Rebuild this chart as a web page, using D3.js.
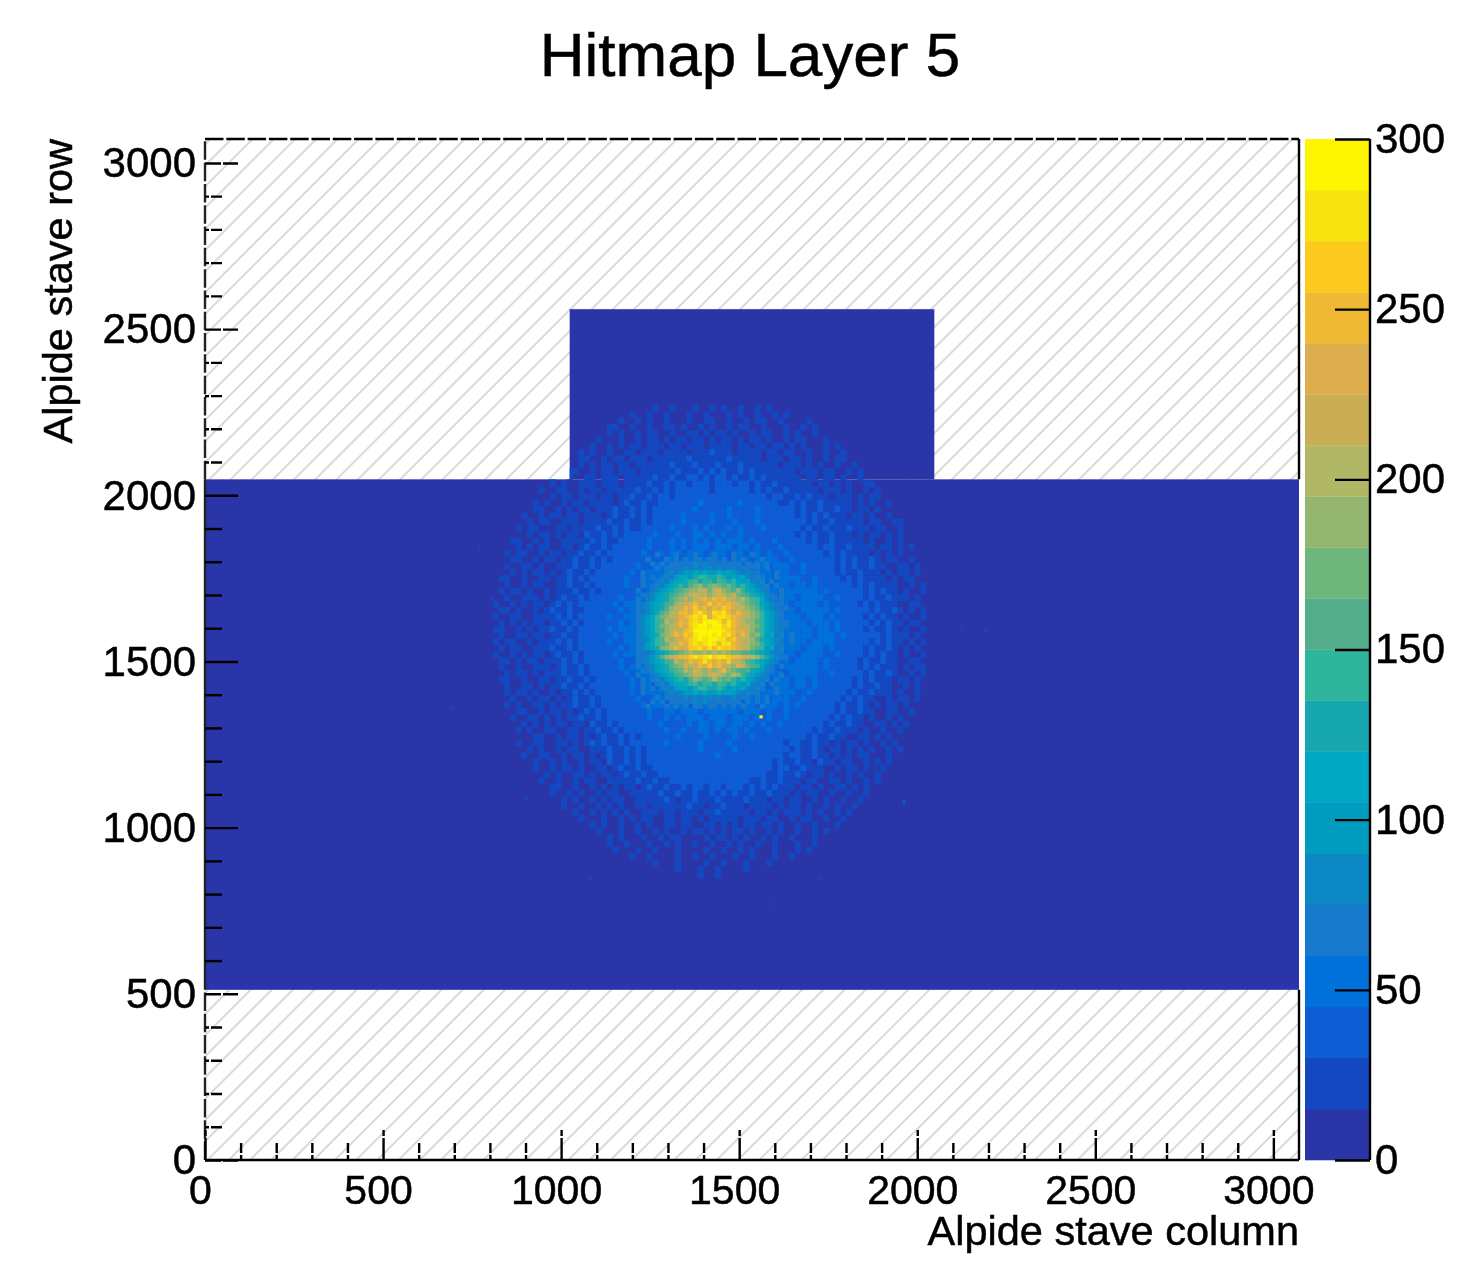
<!DOCTYPE html>
<html lang="en">
<head>
  <meta charset="UTF-8">
  <title>Hitmap Layer 5</title>
  <script src="https://cdn.jsdelivr.net/npm/d3@7"></script>
  <style>
    body { margin: 0; background: #fff; }
    svg { display: block; filter: blur(0.6px); }
    text { font-family: "Liberation Sans", sans-serif; fill: #000; stroke: #000; stroke-width: 0.5px; }
    .axis text { font-size: 41px; }
    .axis line { stroke: #000; stroke-width: 2.4; }
  </style>
</head>
<body>
  <script>
// colour band per 15 hits, bottom to top of the palette
var bandColors = ["#2a35a8","#1448c0","#0e5dd6","#0070da","#1679cc","#0a88c4","#009cc0","#00a7c2","#16a8ae","#2fb59c",
                  "#54ae8c","#6fb67c","#93b56f","#b0b866","#c9ae55","#dcae4e","#f0b934","#fcca1e","#f6e310","#fdf600"];

var xMajor = [0, 500, 1000, 1500, 2000, 2500, 3000];
var xMinor = [100,200,300,400,600,700,800,900,1100,1200,1300,1400,1600,1700,1800,1900,2100,2200,2300,2400,2600,2700,2800,2900];
var yMajor = [0, 500, 1000, 1500, 2000, 2500, 3000];
var yMinor = xMinor;
var zTicks = [0, 50, 100, 150, 200, 250, 300];

// sensor blocks [col0, col1, row0, row1]
var staveBlocks = [[0, 3072, 512, 2048], [1024, 2048, 2048, 2560]];

// hits, one char per cell, base 36, in units of 15 hits.
// outer cells are 16 wide and 19 high, rows go down from row 2272, each string is centred on column 1416
var outerRows = [
"100100010010100100101",
"10010010001001000101001001010",
"01001010010001001100100101100100001",
"1100100100110100101001011001000100101",
"01010010110010011010110100101100101001",
"10001001011010110110101101011010010110001",
"010010101101110110111011110110110110101000101",
"10100100110111011110111211101111011011001001001",
"0110010110111011111121111112111110111011010010110",
"1001010110110111111211121112111211111101110101001001",
"001100101101110111111211121212112121111111011101100101",
"10010011011101111121121122121221211212111111011011010010",
"0101001110111011112112122122212221221211211111101101010011",
"100110010110111112112121222222122222212121121111101110100101",
"0010110111011011211212212222222222222222122112121110111010110",
"101001011011110121121122222223222222322222211212112111110101001",
"0110010101101112112121222222232222232222322222212112112110110100",
"100101101101110121121212222232222322322223222222121212111011010010",
"0101100111011112112112122222322223222322232222222212112111110110011",
"10110001101111211212112222232223232223232223222222121121112111011001",
"001011010110211212122222322232233232322322222222212121121110101101010",
"1100101001111121211222223222323232323233323222322222121121111101001010",
"01010110011012112122222232223232333233323323222322222212211211110110101",
"101100101101121121222222322323323332333233233232232222221212111101010100",
"011001011011211212122222232233233323333233323333223222222212121121011001",
"1001101001112112122222232233323333433323333433233322322222121211211001101",
"0101011010121121222222322333233334332343332333323322322222121121110101101",
"11001001101121212222223223333233343323434333243323333223222212121111010110",
"010010110011211212222232233323333433343434343332333233232222221212111100101",
"101101001011121121222222323332334333434444344343323333332322222212121101001",
"010011101012112122222322333233343334344444443433433323333223222212112111010",
"1001010110121212222223233323333433444444444444343333233332322222121211100110",
"0110100101211211222222323332333343344444444444443343323333323222221211210101",
"1001100111121212222232233323334334444444444444444343332333232222212121101001",
"0101010110112121222222323323333434444444444444444334333233323222221212110110",
"1100101011211212222232333233334334444444444444444443333323323222212112101001",
"0100110110112112222223233323334344444444444444444433433323332322222212111010",
"1011001011121212222232233323343344444444444444444433433233332222221212110101",
"0101100111211212222222323323333434444444444444443343332333232222212112101010",
"1001010110121121222223233332334334444444444444443433323333223222212121101001",
"0110101101112121222222322333233433444444444444334333233332322222121121100110",
"100100111012112122222323332333343344444444443343323333332322222121211101011",
"010110101112112122222232333233334334344444343433332333332232222212112100101",
"110010011011211212222223233323333433434344334332333233232222221212111011010",
"01001101011211212222222323323333343334343433433233323323222222121121100101",
"1011010010112121222222322333233333343323343323333332232222221211211101001",
"0100101101012112122222232233233323333433323333233322322222212121100101101",
"101001101011211212222222323323332333233323332333232322222212112101011010",
"01100101101012121222222232233233323333332333232232222222212112110011001",
"1001101010112112122222223223232333233323332323223222222212121101001010",
"010101011011021121222222232222323323323323232232222222121121100110101",
"10100110011011211212222222322322332323323222322222221211211101001001",
"0110010110101211212122222232222322223223222222222121121100110101",
"10011001101012121121222222322222322223222222222122112110101101001010",
"0101001011001112112121222222222322222322222222212112101101010100101",
"100110010110101211212122222222222232222222222212211211010101100010",
"0100101001011021121212222222222222222222222121121102110110010101",
"100101101001101211211222222222222222222222122112111001011010010",
"0101001101011012112112222222222222222222112112101101001010010",
"100100101100111112112112222222222222211211211101100110100101",
"0110010010101011012112112122122122212121211101101001101010",
"10010100101100111112112112112121211211211101011001001001",
"010100101011001111121011211121111211101101100101001001",
"1001001010100110111111211011211101111010110100101001",
"01001010101001110110111011211111011010111010100101",
"10001001010110011011010111110111011001011001001",
"010100100101001101100110101011011010010010001",
"10001001001010010110101011010010100100101",
"01010001001011000010110101001010010001",
"1001000100101001001001010010010001001",
"10001001000100001001001010001000101",
"10010000100100100010010001001",
"100010000100100010001",
"1000100100001",
"1001"
];
var outerStart = [1416, 2272, 16, 19];

// core cells are 13.4 wide, rows go down from row 1828, 0 lets the outer grid show through
var coreRows = [
"000004000400040004000400040000000",
"000400040404044044040404000400000",
"000040404444454544444440404040000",
"000004044445454554544544404040000",
"004000045456676766767654544000400",
"004040454677689988986767545400400",
"0040045467789a8998a98976754504000",
"004045467898abcabcbab989765450400",
"0400456789abccdebdfcbac9876540040",
"004456789abcdfdecdfdceba987654040",
"04045678abcecdfgegfgedcdba9754040",
"04456789acdefgefhfgfgfdcba9765440",
"0445678acdegfhfgegfhgfdecba865404",
"044568abdeggfhigfihigegedcb976540",
"045679bcdefghihjfhiihgfedcb976540",
"045679adcegfhihjjjigigfdcca976540",
"045679bcdegfhijjijjhigfedcb976544",
"045679acdfdghjjjjjjihgffeca976540",
"045678bcegfhgijjjijhigegdbc967450",
"045579adcefghijijjiighfdeca876540",
"044679abedgfhihijigiigfedcb976540",
"045678bcdgefhhigigihhgfedba967450",
"044456789abcdccdcdcdcbbaa98765440",
"044568acefgghihijhiihggfedca86544",
"04456789adcegfgigfgfhedca98765400",
"04045678abcfdegfhfgedcfeba9754040",
"004456789abdcfdcecdgcba9a87654000",
"0400456789abcedcdfdcbdc9876540040",
"004045467898acbabdbab989765450400",
"0040045467789a8998a98976754504000",
"004040454677689988986767545400400",
"004000045456676766767654544000400",
"000004044445454554544544404040000",
"000040404444454544444440404040000",
"000400040404044044040404000400000"
];
var coreStart = [1196, 1828, 13.4, 13.4];

// stray noisy pixels [col, row, hits]
var hotPixels = [[1557, 1330, 290], [687, 1354, 20], [2188, 1588, 20], [2118, 1594, 20], [1958, 1074, 35], [1725, 842, 20],
                 [799, 1685, 20], [898, 1083, 20], [1585, 767, 20], [1080, 842, 20], [766, 1841, 20]];

var w = 1460,
    h = 1269;
var left = 205, right = 1299, top_ = 139, bottom = 1160;

var svg = d3.select("body")
            .append("svg")
            .attr("width", w)
            .attr("height", h);

var xScale = d3.scaleLinear().domain([0, 3072]).range([left, right]);
var yScale = d3.scaleLinear().domain([0, 3072]).range([bottom, top_]);
var zScale = d3.scaleLinear().domain([0, 300]).range([bottom, top_]);
var colorScale = d3.scaleQuantize().domain([0, 300]).range(bandColors);

var defs = svg.append("defs");

// hatching where there is no sensor
var pattern = defs.append("pattern")
    .attr("id", "hatch")
    .attr("patternUnits", "userSpaceOnUse")
    .attr("width", 15).attr("height", 15)
    .attr("patternTransform", "rotate(45)");
pattern.append("line")
    .attr("x1", 7).attr("x2", 7).attr("y1", 0).attr("y2", 15)
    .attr("stroke", "#c4c4c4").attr("stroke-width", 1.3);

svg.append("rect")
    .attr("x", left).attr("y", top_)
    .attr("width", right - left).attr("height", bottom - top_)
    .attr("fill", "url(#hatch)");

function blockRects(sel) {
    return sel.selectAll("rect")
        .data(staveBlocks)
        .join("rect")
        .attr("x", d => xScale(d[0]))
        .attr("width", d => xScale(d[1]) - xScale(d[0]))
        .attr("y", d => yScale(d[3]))
        .attr("height", d => yScale(d[2]) - yScale(d[3]));
}

blockRects(svg.append("g")).attr("fill", bandColors[0]);
// no hits outside the sensors
blockRects(defs.append("clipPath").attr("id", "stave"));

var cellLayer = svg.append("g").attr("clip-path", "url(#stave)");

// turn the char rows into cells, level 0 is already the block colour
function cellsFrom(rows, colAt, start) {
    var cells = [];
    rows.forEach(function(str, i) {
        for (var j = 0; j < str.length; j++) {
            var code = parseInt(str[j], 36);
            if (code > 0) {
                cells.push({
                    col: colAt(str, j),
                    row: start[1] - (i + 1) * start[3],
                    width: start[2],
                    height: start[3],
                    hits: code * 15 + 7
                });
            }
        }
    });
    return cells;
}

function drawCells(cells) {
    cellLayer.append("g").selectAll("rect")
        .data(cells)
        .join("rect")
        .attr("x", d => xScale(d.col))
        .attr("width", d => xScale(d.col + d.width) - xScale(d.col) + 0.4)
        .attr("y", d => yScale(d.row + d.height))
        .attr("height", d => yScale(d.row) - yScale(d.row + d.height) + 0.4)
        .attr("fill", d => colorScale(d.hits));
}

drawCells(cellsFrom(outerRows, (str, j) => outerStart[0] + (j - Math.floor(str.length / 2)) * outerStart[2], outerStart));
drawCells(cellsFrom(coreRows, (str, j) => coreStart[0] + j * coreStart[2], coreStart));
drawCells(hotPixels.map(d => ({ col: d[0], row: d[1], width: 8, height: 8, hits: d[2] })));

// frame, the hatching chews gaps in it
var dashed = "18.5 2.8";
svg.append("line").attr("x1", left).attr("x2", right).attr("y1", top_).attr("y2", top_)
    .attr("stroke", "#000").attr("stroke-width", 2.4).attr("stroke-dasharray", dashed);
svg.append("line").attr("x1", left).attr("x2", right).attr("y1", bottom).attr("y2", bottom)
    .attr("stroke", "#000").attr("stroke-width", 2.6);
svg.append("line").attr("x1", right).attr("x2", right).attr("y1", top_).attr("y2", yScale(2048))
    .attr("stroke", "#000").attr("stroke-width", 2.4);
svg.append("line").attr("x1", right).attr("x2", right).attr("y1", yScale(512)).attr("y2", bottom)
    .attr("stroke", "#000").attr("stroke-width", 2.4);
svg.append("g").selectAll("line")
    .data([[0, 512, dashed], [512, 2048, null], [2048, 3072, dashed]])
    .join("line")
    .attr("x1", left).attr("x2", left)
    .attr("y1", d => yScale(d[0])).attr("y2", d => yScale(d[1]))
    .attr("stroke", "#222").attr("stroke-width", 2.4)
    .attr("stroke-dasharray", d => d[2]);

// x axis
var xAxis = d3.axisBottom(xScale).tickValues(xMajor).tickSize(-30).tickPadding(15).tickFormat(d3.format("d"));
var xG = svg.append("g").attr("class", "axis")
    .attr("transform", "translate(0," + bottom + ")").call(xAxis);
xG.selectAll("text").attr("dx", -5);
xG.selectAll("line").attr("stroke-dasharray", "22 2 10");

var xAxisMinor = d3.axisBottom(xScale).tickValues(xMinor).tickSize(-17).tickFormat("");
var xGMinor = svg.append("g").attr("class", "axis")
    .attr("transform", "translate(0," + bottom + ")").call(xAxisMinor);
xGMinor.selectAll("line").attr("stroke-dasharray", "5 2 14");

// y axis
var yAxis = d3.axisLeft(yScale).tickValues(yMajor).tickSize(-33).tickPadding(9).tickFormat(d3.format("d"));
var yG = svg.append("g").attr("class", "axis")
    .attr("transform", "translate(" + left + ",0)").call(yAxis);
yG.selectAll("line").attr("stroke-dasharray", d => (d < 512 || d > 2048) ? "16 2 16" : null);
yG.selectAll("text").style("font-size", "42px").attr("dy", "0.33em");

var yAxisMinor = d3.axisLeft(yScale).tickValues(yMinor).tickSize(-17).tickFormat("");
var yGMinor = svg.append("g").attr("class", "axis")
    .attr("transform", "translate(" + left + ",0)").call(yAxisMinor);
yGMinor.selectAll("line").attr("stroke-dasharray", d => (d < 512 || d > 2048) ? "4 2 12" : null);

svg.selectAll(".axis .domain").remove();

// colour bar
svg.append("g").selectAll("rect")
    .data(d3.range(0, 300, 15))
    .join("rect")
    .attr("x", 1305)
    .attr("width", 65)
    .attr("y", d => zScale(d + 15))
    .attr("height", d => zScale(d) - zScale(d + 15) + 0.3)
    .attr("fill", d => colorScale(d + 7));

var zAxis = d3.axisRight(zScale).tickValues(zTicks).tickSize(-35).tickPadding(5).tickFormat(d3.format("d"));
var zG = svg.append("g").attr("class", "axis")
    .attr("transform", "translate(1370,0)").call(zAxis);
zG.select(".domain").remove();
zG.selectAll("text").style("font-size", "42px");
svg.append("line").attr("x1", 1370).attr("x2", 1370).attr("y1", top_).attr("y2", bottom)
    .attr("stroke", "#000").attr("stroke-width", 2.4);

// titles
svg.append("text").attr("x", 750).attr("y", 76).attr("text-anchor", "middle")
    .attr("font-size", 62).text("Hitmap Layer 5");
svg.append("text").attr("x", right).attr("y", 1245).attr("text-anchor", "end")
    .attr("font-size", 41.5).text("Alpide stave column");
svg.append("text").attr("transform", "translate(72," + top_ + ") rotate(-90)").attr("text-anchor", "end")
    .attr("font-size", 41.5).text("Alpide stave row");
  </script>
</body>
</html>
